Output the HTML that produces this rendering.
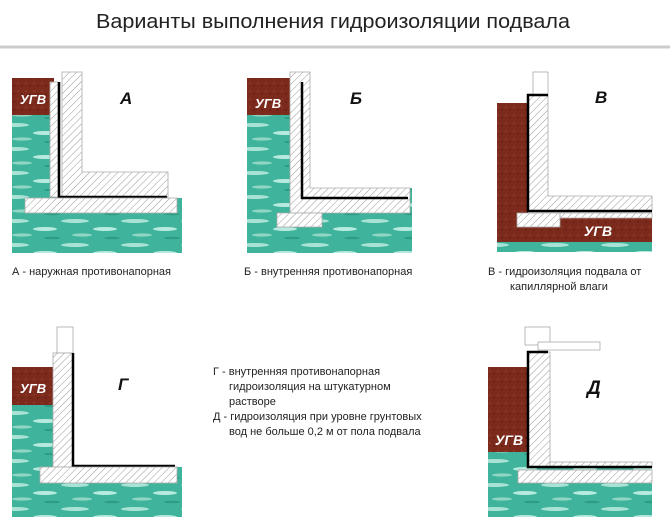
<!DOCTYPE html>
<html><head><meta charset="utf-8"><style>
html,body{margin:0;padding:0;background:#fff;}
svg{display:block;}
text{font-family:"Liberation Sans","Noto Sans CJK SC",sans-serif;}
</style></head><body>
<svg width="670" height="520" viewBox="0 0 670 520" xmlns="http://www.w3.org/2000/svg">
<defs>
<pattern id="h" width="5" height="5" patternUnits="userSpaceOnUse" patternTransform="rotate(45)">
<rect width="5" height="5" fill="#fff"/><line x1="0" y1="0" x2="0" y2="5" stroke="#999" stroke-width="1"/>
</pattern>
<pattern id="w" width="60" height="24" patternUnits="userSpaceOnUse">
<rect width="60" height="24" fill="#3fb39b"/>
<ellipse cx="15" cy="5" rx="14" ry="2" fill="#a9e3d6"/>
<ellipse cx="45" cy="13" rx="12" ry="2" fill="#b8ebdf"/>
<ellipse cx="22" cy="19" rx="10" ry="1.6" fill="#8fd6c5"/>
<ellipse cx="52" cy="22" rx="8" ry="1.3" fill="#2f9c86"/>
</pattern>
<pattern id="b" width="8" height="8" patternUnits="userSpaceOnUse">
<rect width="8" height="8" fill="#7b2a1c"/><circle cx="2" cy="3" r="1" fill="#8e3a28"/><circle cx="6" cy="6" r="1" fill="#651f14"/>
</pattern>
</defs>
<g stroke="#aaa" stroke-width="0.8">
<text x="333" y="28" font-size="20" text-anchor="middle" fill="#222" stroke="none" textLength="474" lengthAdjust="spacingAndGlyphs">Варианты выполнения гидроизоляции подвала</text>
<line x1="0" y1="47" x2="670" y2="47" stroke="#ccc" stroke-width="3"/>

<!-- A -->
<rect x="12" y="115" width="170" height="138" fill="url(#w)" stroke="none"/>
<rect x="58" y="82" width="124" height="116" fill="#fff" stroke="none"/>
<rect x="12" y="78" width="42" height="37" fill="url(#b)" stroke="none"/>
<text x="33" y="104" font-size="13" font-weight="bold" font-style="italic" fill="#fff" stroke="none" text-anchor="middle">УГВ</text>
<rect x="50" y="82" width="8" height="115" fill="url(#h)"/>
<path d="M62 72 H82 V172 H168 V197 H62 Z" fill="url(#h)"/>
<path d="M59 82 V197 H167" fill="none" stroke="#000" stroke-width="2.5"/>
<rect x="25" y="198" width="152" height="15" fill="url(#h)"/>
<text x="120" y="104" font-size="17" font-weight="bold" font-style="italic" fill="#111" stroke="none">А</text>

<!-- Б -->
<rect x="247" y="115" width="165" height="138" fill="url(#w)" stroke="none"/>
<rect x="310" y="72" width="102" height="116" fill="#fff" stroke="none"/>
<rect x="247" y="78" width="43" height="37" fill="url(#b)" stroke="none"/>
<text x="268" y="108" font-size="13" font-weight="bold" font-style="italic" fill="#fff" stroke="none" text-anchor="middle">УГВ</text>
<path d="M290 72 H310 V188 H410 V213 H290 Z" fill="url(#h)"/>
<path d="M302 82 V198 H408" fill="none" stroke="#000" stroke-width="2.5"/>
<rect x="277" y="213" width="45" height="14" fill="url(#h)"/>
<text x="350" y="104" font-size="17" font-weight="bold" font-style="italic" fill="#111" stroke="none">Б</text>

<!-- В -->
<rect x="497" y="103" width="31" height="140" fill="url(#b)" stroke="none"/>
<rect x="497" y="213" width="155" height="30" fill="url(#b)" stroke="none"/>
<rect x="497" y="242" width="155" height="10" fill="url(#w)" stroke="none"/>
<rect x="533" y="72" width="15" height="23" fill="#fff"/>
<path d="M528 95 H548 V196 H652 V211 H528 Z" fill="url(#h)"/>
<path d="M548 95 H528 V211 H652" fill="none" stroke="#000" stroke-width="2.5"/>
<rect x="517" y="213" width="43" height="14" fill="url(#h)"/>
<rect x="560" y="213" width="92" height="5" fill="url(#h)"/>
<text x="598" y="236" font-size="14" font-weight="bold" font-style="italic" fill="#fff" stroke="none" text-anchor="middle">УГВ</text>
<text x="595" y="103" font-size="17" font-weight="bold" font-style="italic" fill="#111" stroke="none">В</text>

<text x="12" y="275" font-size="11" fill="#222" stroke="none">А - наружная противонапорная</text>
<text x="244" y="275" font-size="11" fill="#222" stroke="none">Б - внутренняя противонапорная</text>
<text x="488" y="275" font-size="11" fill="#222" stroke="none">В - гидроизоляция подвала от</text>
<text x="510" y="290" font-size="11" fill="#222" stroke="none">капиллярной влаги</text>

<!-- Г -->
<rect x="12" y="405" width="170" height="112" fill="url(#w)" stroke="none"/>
<rect x="73" y="353" width="109" height="114" fill="#fff" stroke="none"/>
<rect x="12" y="367" width="41" height="38" fill="url(#b)" stroke="none"/>
<text x="33" y="393" font-size="13" font-weight="bold" font-style="italic" fill="#fff" stroke="none" text-anchor="middle">УГВ</text>
<rect x="57" y="327" width="16" height="26" fill="#fff"/>
<rect x="53" y="353" width="20" height="114" fill="url(#h)"/>
<path d="M73 353 V466 H175" fill="none" stroke="#000" stroke-width="2.5"/>
<rect x="40" y="467" width="137" height="16" fill="url(#h)"/>
<text x="118" y="390" font-size="17" font-weight="bold" font-style="italic" fill="#111" stroke="none">Г</text>

<g font-size="11" fill="#222" stroke="none">
<text x="213" y="375">Г - внутренняя противонапорная</text>
<text x="229" y="390">гидроизоляция на штукатурном</text>
<text x="229" y="405">растворе</text>
<text x="213" y="420">Д - гидроизоляция при уровне грунтовых</text>
<text x="229" y="435">вод не больше 0,2 м от пола подвала</text>
</g>

<!-- Д -->
<rect x="488" y="452" width="164" height="65" fill="url(#w)" stroke="none"/>
<rect x="550" y="352" width="102" height="110" fill="#fff" stroke="none"/>
<rect x="488" y="367" width="40" height="85" fill="url(#b)" stroke="none"/>
<text x="509" y="445" font-size="14" font-weight="bold" font-style="italic" fill="#fff" stroke="none" text-anchor="middle">УГВ</text>
<rect x="525" y="327" width="25" height="18" fill="#fff"/>
<rect x="538" y="342" width="62" height="8" fill="#fff"/>
<rect x="528" y="352" width="22" height="115" fill="url(#h)"/>
<rect x="550" y="462" width="102" height="5" fill="url(#h)"/>
<path d="M548 352 H528 V467 H652" fill="none" stroke="#000" stroke-width="2.5"/>
<rect x="518" y="470" width="134" height="13" fill="url(#h)"/>
<text x="587" y="394" font-size="19" font-weight="bold" font-style="italic" fill="#111" stroke="none">Д</text>
</g>
</svg>
</body></html>
